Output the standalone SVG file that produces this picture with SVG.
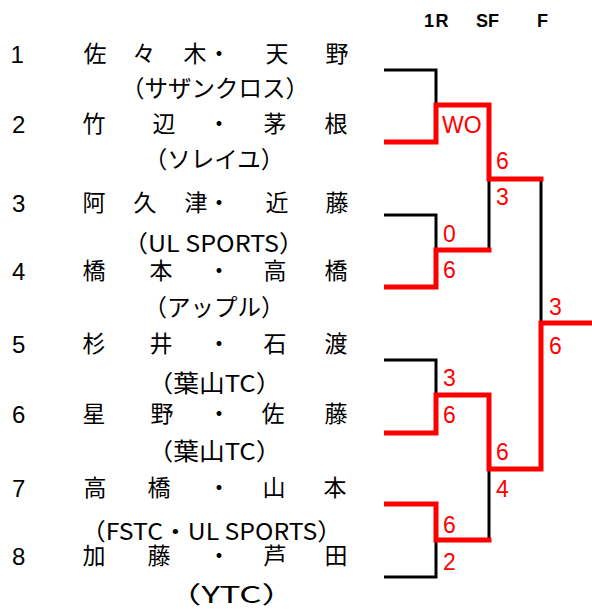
<svg xmlns="http://www.w3.org/2000/svg" width="592" height="609" viewBox="0 0 592 609">
<style>
.num{font-family:"Liberation Sans",Arial,sans-serif;font-size:24px;fill:#000}
.nm{font-family:"Noto Sans CJK JP",sans-serif;font-size:23px;fill:#000;text-anchor:middle}
.af{font-family:"Noto Sans CJK JP",sans-serif;font-size:23.5px;fill:#000;text-anchor:middle}
.hd{font-family:"Liberation Sans",Arial,sans-serif;font-size:18px;font-weight:bold;fill:#000}
.sc{font-family:"Liberation Sans",Arial,sans-serif;font-size:23px;fill:#ff0000}
.lose{fill:none;stroke:#000;stroke-width:3;stroke-linejoin:miter;stroke-linecap:butt}
.win{fill:none;stroke:#ff0000;stroke-width:5;stroke-linejoin:miter;stroke-linecap:butt}
</style>
<rect width="592" height="609" fill="#fff"/>
<g id="header">
<text class="hd" x="424" y="27" letter-spacing="1.5">1R</text>
<text class="hd" x="476" y="27">SF</text>
<text class="hd" x="537" y="27">F</text>
</g>
<g id="player1">
<text class="num" x="10.5" y="63">1</text>
<text class="nm" x="95 144 195 219 277 337" y="62">佐々木・天野</text>
<text class="af" x="215" y="97">（サザンクロス）</text>
</g>
<g id="player2">
<text class="num" x="12" y="133">2</text>
<text class="nm" x="94 164 219 275 336" y="132">竹辺・茅根</text>
<text class="af" x="214" y="168">（ソレイユ）</text>
</g>
<g id="player3">
<text class="num" x="12" y="212">3</text>
<text class="nm" x="94 145 196 219 277 337" y="211">阿久津・近藤</text>
<text class="af" x="213.5" y="252" textLength="181" lengthAdjust="spacingAndGlyphs">（UL SPORTS）</text>
</g>
<g id="player4">
<text class="num" x="12" y="280">4</text>
<text class="nm" x="94 161 219 275 336" y="279">橋本・高橋</text>
<text class="af" x="214" y="316">（アップル）</text>
</g>
<g id="player5">
<text class="num" x="12" y="353">5</text>
<text class="nm" x="94 161 219 275 336" y="352">杉井・石渡</text>
<text class="af" x="214.5" y="392" textLength="134" lengthAdjust="spacingAndGlyphs">（葉山TC）</text>
</g>
<g id="player6">
<text class="num" x="12" y="423">6</text>
<text class="nm" x="94 162 219 273 336" y="422">星野・佐藤</text>
<text class="af" x="214.5" y="460" textLength="134" lengthAdjust="spacingAndGlyphs">（葉山TC）</text>
</g>
<g id="player7">
<text class="num" x="12" y="497">7</text>
<text class="nm" x="95 159 219 274 335" y="496">高橋・山本</text>
<text class="af" x="211.5" y="540" textLength="261" lengthAdjust="spacingAndGlyphs">（FSTC・UL SPORTS）</text>
</g>
<g id="player8">
<text class="num" x="12" y="565">8</text>
<text class="nm" x="94 159 219 275 336" y="564">加藤・芦田</text>
<text class="af" x="231.5" y="603" textLength="130" lengthAdjust="spacingAndGlyphs">（YTC）</text>
</g>
<g id="connectors">
<path class="lose" d="M384,70 H436 V105"/>
<path class="lose" d="M384,215 H436 V250"/>
<path class="lose" d="M384,360 H436 V395"/>
<path class="lose" d="M384,577 H436 V540"/>
<path class="lose" d="M489,179 V250"/>
<path class="lose" d="M489,469 V540"/>
<path class="lose" d="M541,179 V323"/>
<path class="win" d="M384,142 H436 V105 H489 V179 H543.5"/>
<path class="win" d="M384,287 H436 V250 H491.5"/>
<path class="win" d="M384,433 H436 V395 H489 V469 H541 V323 H592"/>
<path class="win" d="M384,504 H436 V540 H491.5"/>
</g>
<g id="scores">
<text class="sc" x="442" y="133">WO</text>
<text class="sc" x="496" y="169">6</text>
<text class="sc" x="496" y="205">3</text>
<text class="sc" x="443" y="242">0</text>
<text class="sc" x="443" y="278">6</text>
<text class="sc" x="549" y="315">3</text>
<text class="sc" x="549" y="354">6</text>
<text class="sc" x="443" y="386">3</text>
<text class="sc" x="443" y="423">6</text>
<text class="sc" x="496" y="460">6</text>
<text class="sc" x="496" y="497">4</text>
<text class="sc" x="443" y="533">6</text>
<text class="sc" x="443" y="570">2</text>
</g>
</svg>
